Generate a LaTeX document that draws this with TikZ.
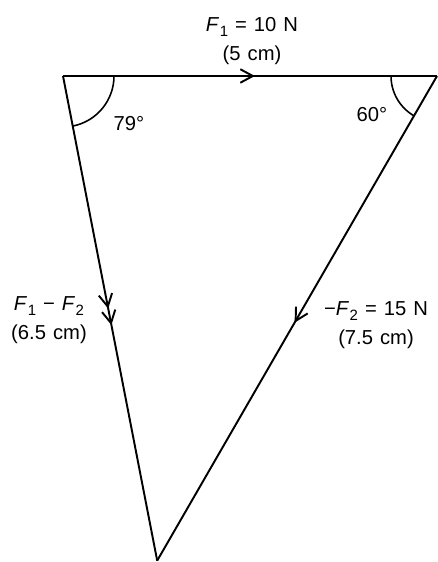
\documentclass[tikz,border=0pt]{standalone}
\usepackage{fontspec}
\setmainfont[WordSpace=1.25]{Liberation Sans}
\usetikzlibrary{arrows.meta,decorations.markings}
\newcommand{\Fv}[1]{\textit{F}\kern0.3pt\raisebox{-0.5ex}{\fontsize{8.5}{10}\selectfont #1}}

\begin{document}
\begin{tikzpicture}[line width=1.1pt,>={Straight Barb[length=2.5mm,width=2.7mm]},
  midarrow/.style={postaction={decorate},decoration={markings,
    mark=at position #1 with {\arrow{>}}}},
  twoarrow/.style={postaction={decorate},decoration={markings,
    mark=at position 0.48 with {\arrow{>}},
    mark=at position 0.514 with {\arrow{>}}}},
  anglearc/.style={line width=0.9pt},
  lbl/.style={font=\fontsize{11.5}{16.5}\selectfont,align=center,inner sep=0pt}]
\useasboundingbox (0,0) rectangle (8.74,11.24);
% vertices of the triangle
\coordinate (A) at (1.26,9.72);
\coordinate (B) at (8.74,9.72);
\coordinate (C) at (3.144,0.027);
% sides with direction arrows
\draw[midarrow=0.513] (A) -- (B);
\draw[twoarrow] (A) -- (C);
\draw[midarrow=0.509] (B) -- (C);
% angle arcs
\draw[anglearc] (A) ++(0:1.02) arc (0:-79:1.02);
\draw[anglearc] (B) ++(180:0.92) arc (180:240:0.92);
% angle labels
\node[lbl] (a79) at (2.58,8.76) {79°};
\node[lbl] (a60) at (7.44,8.94) {60°};
% force labels
\node[lbl] (f1) at (5.04,10.42) {\Fv{1} = 10 N\\(5 cm)};
\node[lbl] (f12) at (0.98,4.84) {\Fv{1} − \Fv{2}\\(6.5 cm)};
\node[lbl] (f2) at (7.52,4.74) {−\Fv{2} = 15 N\\(7.5 cm)};
\end{tikzpicture}
\end{document}
